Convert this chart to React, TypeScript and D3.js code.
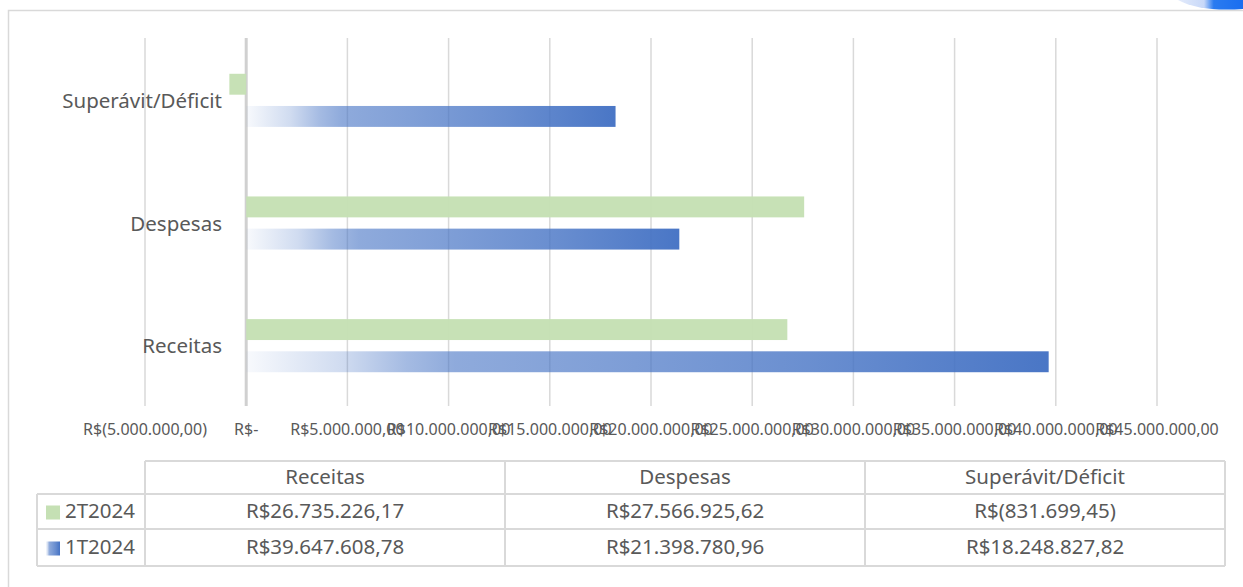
import React from "react";
import * as d3 from "d3";

const categories = ["Superávit/Déficit", "Despesas", "Receitas"];
const tableCategories = ["Receitas", "Despesas", "Superávit/Déficit"];
const seriesNames = ["2T2024", "1T2024"];
const values2T: Record<string, number> = {
  Receitas: 26735226.17,
  Despesas: 27566925.62,
  "Superávit/Déficit": -831699.45,
};
const values1T: Record<string, number> = {
  Receitas: 39647608.78,
  Despesas: 21398780.96,
  "Superávit/Déficit": 18248827.82,
};
const tickValues = [-5e6, 0, 5e6, 10e6, 15e6, 20e6, 25e6, 30e6, 35e6, 40e6, 45e6];

const W = 1243;
const H = 587;
const FONT = "'Noto Sans', 'Open Sans', sans-serif";
const TXT = "#595959";
const GRID = "#d9d9d9";
const GREEN = "#c5e0b4";
const BLUE = "#4472c4";
const BIG = 20.5;

function fmtNum(v: number): string {
  const abs = Math.abs(v);
  const s = abs.toFixed(2);
  const [intPart, dec] = s.split(".");
  const withDots = intPart.replace(/\B(?=(\d{3})+(?!\d))/g, ".");
  return `${withDots},${dec}`;
}
function fmtCurrency(v: number): string {
  if (v === 0) return "R$-";
  if (v < 0) return `R$(${fmtNum(v)})`;
  return `R$${fmtNum(v)}`;
}

export default function App() {
  const x = d3.scaleLinear().domain([-5e6, 45e6]).range([145, 1157]);
  const y0 = d3
    .scaleBand<string>()
    .domain(categories)
    .range([39, 407])
    .paddingInner(0.567)
    .paddingOuter(0.2835);
  const y1 = d3
    .scaleBand<string>()
    .domain(seriesNames)
    .range([0, y0.bandwidth()])
    .paddingInner(0.35);

  const gridTop = 38;
  const gridBottom = 406;

  const colX = d3.scaleBand<string>().domain(tableCategories).range([145, 1225]);
  const rowTop = [461, 494, 529, 566];
  const legendLeft = 37;

  const seriesData = [
    { name: "2T2024", vals: values2T },
    { name: "1T2024", vals: values1T },
  ];

  return (
    <svg
      width={W}
      height={H}
      style={{ position: "absolute", left: 0, top: 0, background: "#fff" }}
      fontFamily={FONT}
    >
      <defs>
        <linearGradient id="blueGrad" x1="0" x2="1" y1="0" y2="0">
          <stop offset="0" stopColor={BLUE} stopOpacity={0.04} />
          <stop offset="0.12" stopColor={BLUE} stopOpacity={0.26} />
          <stop offset="0.2" stopColor={BLUE} stopOpacity={0.5} />
          <stop offset="0.26" stopColor={BLUE} stopOpacity={0.62} />
          <stop offset="0.45" stopColor={BLUE} stopOpacity={0.7} />
          <stop offset="0.7" stopColor={BLUE} stopOpacity={0.82} />
          <stop offset="1" stopColor={BLUE} stopOpacity={1} />
        </linearGradient>
        <linearGradient id="decoGrad" x1="0" x2="1" y1="0" y2="0">
          <stop offset="0" stopColor="#e3ebfb" />
          <stop offset="0.4" stopColor="#c8d8f8" />
          <stop offset="0.55" stopColor="#2a7bf0" />
          <stop offset="1" stopColor="#1a6ef0" />
        </linearGradient>
      </defs>

      <rect x={8.5} y={10.5} width={1300} height={700} fill="none" stroke={GRID} strokeWidth={1.5} />
      <path d="M1178,0 Q1200,12 1243,9 L1243,0 Z" fill="url(#decoGrad)" />

      {tickValues.map((t) => (
        <line
          key={t}
          x1={x(t)}
          x2={x(t)}
          y1={gridTop}
          y2={gridBottom}
          stroke={t === 0 ? "#d0d0d0" : GRID}
          strokeWidth={t === 0 ? 3 : 1.5}
        />
      ))}

      {categories.map((c) =>
        seriesData.map((s) => {
          const v = s.vals[c];
          const bx = Math.min(x(0), x(v));
          const bw = Math.abs(x(v) - x(0));
          const by = (y0(c) ?? 0) + (y1(s.name) ?? 0);
          return (
            <rect
              key={c + s.name}
              x={bx}
              y={by}
              width={bw}
              height={y1.bandwidth()}
              fill={s.name === "2T2024" ? GREEN : "url(#blueGrad)"}
              opacity={0.97}
            />
          );
        })
      )}

      {categories.map((c) => (
        <text
          key={c}
          x={222}
          y={(y0(c) ?? 0) + y0.bandwidth() / 2 + 2}
          textAnchor="end"
          dominantBaseline="middle"
          fontSize={BIG}
          fill={TXT}
        >
          {c}
        </text>
      ))}

      {tickValues.map((t) => (
        <text
          key={"l" + t}
          x={x(t)}
          y={431}
          textAnchor="middle"
          dominantBaseline="middle"
          fontSize={16}
          fill={TXT}
        >
          {fmtCurrency(t)}
        </text>
      ))}

      <g stroke={GRID} strokeWidth={2} fill="none">
        <line x1={145} x2={1225} y1={rowTop[0]} y2={rowTop[0]} />
        <line x1={legendLeft} x2={1225} y1={rowTop[1]} y2={rowTop[1]} />
        <line x1={legendLeft} x2={1225} y1={rowTop[2]} y2={rowTop[2]} />
        <line x1={legendLeft} x2={1225} y1={rowTop[3]} y2={rowTop[3]} />
        <line x1={legendLeft} x2={legendLeft} y1={rowTop[1]} y2={rowTop[3]} />
        {tableCategories.map((c) => (
          <line key={c} x1={colX(c)} x2={colX(c)} y1={rowTop[0]} y2={rowTop[3]} />
        ))}
        <line x1={1225} x2={1225} y1={rowTop[0]} y2={rowTop[3]} />
      </g>
      {tableCategories.map((c) => (
        <text
          key={"h" + c}
          x={(colX(c) ?? 0) + colX.bandwidth() / 2}
          y={(rowTop[0] + rowTop[1]) / 2 + 1}
          textAnchor="middle"
          dominantBaseline="middle"
          fontSize={BIG}
          fill={TXT}
        >
          {c}
        </text>
      ))}
      {seriesData.map((s, i) => {
        const cy = (rowTop[i + 1] + rowTop[i + 2]) / 2 + 1;
        return (
          <g key={"row" + s.name}>
            <rect
              x={46}
              y={cy - 7}
              width={14}
              height={14}
              fill={s.name === "2T2024" ? GREEN : "url(#blueGrad)"}
            />
            <text x={65} y={cy} dominantBaseline="middle" fontSize={BIG} fill={TXT}>
              {s.name}
            </text>
            {tableCategories.map((c) => (
              <text
                key={c}
                x={(colX(c) ?? 0) + colX.bandwidth() / 2}
                y={cy}
                textAnchor="middle"
                dominantBaseline="middle"
                fontSize={BIG}
                fill={TXT}
              >
                {fmtCurrency(s.vals[c])}
              </text>
            ))}
          </g>
        );
      })}
    </svg>
  );
}
